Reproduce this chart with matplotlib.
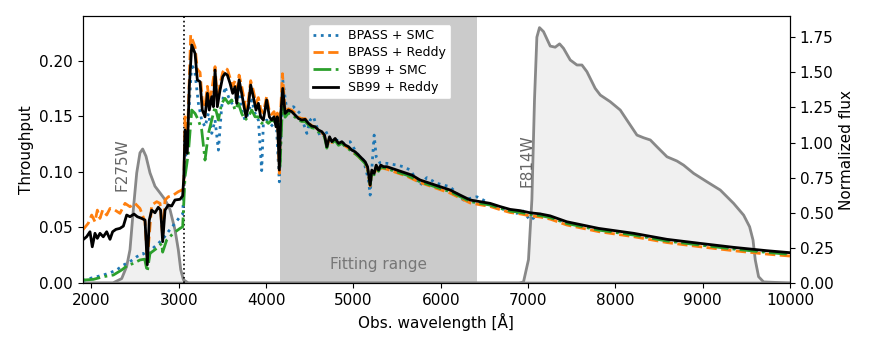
import matplotlib
matplotlib.use('Agg')
import matplotlib.pyplot as plt

# filter throughputs (left axis)
f275_wave = [1900, 2247, 2270, 2347, 2404, 2442, 2480, 2519, 2556, 2587, 2625, 2671, 2728,
             2786, 2843, 2900, 2957, 2995, 3023, 3053, 3110, 10000]
f275_thr = [0.0, 0.0, 0.001, 0.004, 0.015, 0.030, 0.066, 0.099, 0.117, 0.1205, 0.114, 0.099, 0.087,
            0.081, 0.075, 0.066, 0.048, 0.030, 0.012, 0.003, 0.0, 0.0]

f814_wave = [1900, 6900, 6948, 7005, 7044, 7074, 7101, 7131, 7177, 7254, 7311, 7361, 7406, 7483,
             7560, 7617, 7674, 7769, 7827, 7941, 8056, 8132, 8247, 8323, 8400, 8476, 8591,
             8705, 8781, 8896, 9049, 9201, 9354, 9469, 9537, 9576, 9602, 9640, 9697, 10000]
f814_thr = [0.0, 0.0, 0.001, 0.021, 0.075, 0.165, 0.221, 0.2296, 0.226, 0.213, 0.212, 0.215, 0.211,
            0.2005, 0.196, 0.196, 0.190, 0.175, 0.169, 0.163, 0.1555, 0.1465, 0.133, 0.1306,
            0.1286, 0.1225, 0.1135, 0.1097, 0.106, 0.0986, 0.091, 0.0836, 0.0716, 0.061,
            0.0506, 0.0387, 0.0207, 0.0057, 0.001, 0.0]

# SB99 + Reddy (normalized flux, right axis)
sb99_reddy_wave = [1900, 1946, 1984, 2010, 2041, 2068, 2098, 2136, 2175, 2213, 2243, 2281, 2327,
                   2366, 2404, 2442, 2488, 2526, 2576, 2614, 2640, 2663, 2690, 2728, 2766, 2793,
                   2816, 2843, 2881, 2919, 2957, 3015, 3045, 3058, 3072, 3098, 3121, 3149, 3187,
                   3213, 3244, 3270, 3301, 3328, 3350, 3378, 3397, 3416, 3442, 3473, 3504, 3530,
                   3557, 3588, 3618, 3645, 3664, 3691, 3721, 3748, 3771, 3797, 3824, 3854, 3885,
                   3912, 3938, 3969, 4007, 4038, 4064, 4091, 4114, 4129, 4152, 4169, 4191, 4218,
                   4256, 4295, 4333, 4371, 4409, 4448, 4486, 4524, 4562, 4600, 4639, 4669, 4696,
                   4727, 4753, 4791, 4830, 4868, 4906, 4944, 4982, 5020, 5059, 5097, 5135, 5162,
                   5192, 5211, 5238, 5261, 5288, 5314, 5345, 5383, 5441, 5498, 5555, 5612, 5670,
                   5764, 5879, 5993, 6108, 6222, 6337, 6452, 6566, 6681, 6795, 6910, 7024, 7139,
                   7253, 7444, 7807, 8208, 8591, 8973, 9354, 9736, 10000]
sb99_reddy_flux = [0.306, 0.33, 0.365, 0.258, 0.354, 0.318, 0.354, 0.329, 0.365, 0.311, 0.365, 0.382,
                   0.389, 0.405, 0.484, 0.472, 0.491, 0.472, 0.46, 0.448, 0.13, 0.448, 0.519, 0.50,
                   0.539, 0.519, 0.294, 0.519, 0.555, 0.548, 0.591, 0.596, 0.62, 0.75, 1.089, 0.923,
                   1.397, 1.694, 1.634, 1.445, 1.433, 1.231, 1.183, 1.35, 1.231, 1.326, 1.255,
                   1.516, 1.255, 1.373, 1.468, 1.492, 1.48, 1.421, 1.35, 1.397, 1.279, 1.445,
                   1.35, 1.255, 1.183, 1.255, 1.409, 1.326, 1.231, 1.279, 1.183, 1.16, 1.303,
                   1.183, 1.16, 1.183, 1.112, 1.183, 0.804, 1.207, 1.385, 1.207, 1.231, 1.219,
                   1.195, 1.171, 1.16, 1.165, 1.136, 1.117, 1.112, 1.089, 1.077, 1.053, 0.97,
                   1.041, 1.006, 1.029, 0.994, 1.006, 0.982, 0.970, 0.946, 0.934, 0.911, 0.887,
                   0.863, 0.828, 0.697, 0.804, 0.780, 0.839, 0.804, 0.839, 0.828, 0.828, 0.816,
                   0.804, 0.792, 0.780, 0.768, 0.733, 0.709, 0.685, 0.662, 0.626, 0.591, 0.579,
                   0.567, 0.544, 0.524, 0.515, 0.500, 0.492, 0.478, 0.436, 0.389, 0.354, 0.311,
                   0.282, 0.254, 0.23, 0.216]

# BPASS + Reddy
bpass_reddy_wave = [1900, 1964, 2003, 2041, 2068, 2098, 2129, 2175, 2213, 2270, 2327, 2385, 2442,
                    2499, 2556, 2614, 2640, 2690, 2748, 2786, 2816, 2843, 2881, 2938, 2995, 3034,
                    3058, 3072, 3098, 3121, 3137, 3187, 3213, 3244, 3270, 3301, 3328, 3350, 3378,
                    3416, 3442, 3473, 3504, 3530, 3557, 3588, 3618, 3645, 3664, 3691, 3721, 3748,
                    3771, 3797, 3824, 3854, 3885, 3912, 3938, 3969, 4007, 4038, 4064, 4091, 4114,
                    4129, 4152, 4169, 4188, 4218, 4256, 4295, 4333, 4371, 4409, 4448, 4486, 4524,
                    4562, 4600, 4639, 4669, 4696, 4727, 4753, 4791, 4830, 4868, 4906, 4944, 4982,
                    5020, 5059, 5097, 5135, 5162, 5192, 5211, 5238, 5261, 5288, 5314, 5383, 5498,
                    5612, 5764, 5879, 5993, 6108, 6222, 6337, 6452, 6566, 6681, 6795, 6910, 7024,
                    7139, 7253, 7444, 7807, 8208, 8591, 8973, 9354, 9736, 10000]
bpass_reddy_flux = [0.377, 0.425, 0.484, 0.436, 0.519, 0.46, 0.519, 0.484, 0.531, 0.519, 0.496,
                    0.567, 0.543, 0.567, 0.531, 0.436, 0.16, 0.555, 0.579, 0.567, 0.33, 0.591,
                    0.614, 0.626, 0.65, 0.661, 0.68, 1.183, 1.0, 1.45, 1.765, 1.68, 1.52, 1.50,
                    1.30, 1.26, 1.40, 1.30, 1.37, 1.54, 1.30, 1.42, 1.50, 1.53, 1.52, 1.46, 1.40,
                    1.44, 1.33, 1.48, 1.40, 1.31, 1.24, 1.30, 1.44, 1.37, 1.28, 1.32, 1.24, 1.21,
                    1.33, 1.22, 1.20, 1.22, 1.16, 1.21, 0.78, 1.25, 1.49, 1.22, 1.24, 1.23, 1.21,
                    1.18, 1.17, 1.17, 1.14, 1.12, 1.11, 1.09, 1.07, 1.05, 0.97, 1.03, 1.00, 1.02,
                    0.99, 1.00, 0.975, 0.96, 0.935, 0.92, 0.90, 0.875, 0.85, 0.815, 0.69, 0.79,
                    0.77, 0.825, 0.79, 0.82, 0.81, 0.785, 0.76, 0.715, 0.69, 0.665, 0.64, 0.605,
                    0.57, 0.557, 0.545, 0.522, 0.502, 0.492, 0.478, 0.47, 0.455, 0.413, 0.366,
                    0.33, 0.288, 0.258, 0.23, 0.206, 0.192]

# SB99 + SMC
sb99_smc_wave = [1900, 2022, 2136, 2251, 2347, 2404, 2480, 2556, 2610, 2640, 2671, 2748, 2805,
                 2816, 2862, 2938, 3015, 3045, 3072, 3110, 3149, 3187, 3225, 3263, 3301, 3340,
                 3378, 3416, 3454, 3492, 3530, 3569, 3607, 3645, 3683, 3721, 3759, 3797, 3836,
                 3874, 3912, 3950, 3988, 4026, 4064, 4102, 4141, 4160, 4180, 4191, 4218, 4256,
                 4295, 4333, 4371, 4409, 4448, 4486, 4524, 4562, 4600, 4639, 4669, 4696, 4727,
                 4753, 4791, 4830, 4868, 4906, 4944, 4982, 5020, 5059, 5097, 5135, 5162, 5192,
                 5211, 5238, 5261, 5288, 5314, 5383, 5498, 5612, 5764, 5879, 5993, 6108, 6222,
                 6337, 6452, 6566, 6681, 6795, 6910, 7024, 7139, 7253, 7444, 7807, 8208, 8591,
                 8973, 9354, 9736, 10000]
sb99_smc_flux = [0.021, 0.026, 0.045, 0.057, 0.093, 0.121, 0.14, 0.164, 0.17, 0.081, 0.211, 0.247,
                 0.282, 0.22, 0.306, 0.354, 0.389, 0.40, 0.757, 0.923, 1.231, 1.207, 1.16, 1.089,
                 0.875, 1.065, 1.16, 1.255, 1.16, 1.279, 1.314, 1.279, 1.303, 1.231, 1.279, 1.207,
                 1.16, 1.183, 1.231, 1.183, 1.183, 1.136, 1.16, 1.136, 1.16, 1.148, 1.136, 0.828,
                 1.15, 1.25, 1.18, 1.21, 1.20, 1.18, 1.16, 1.15, 1.15, 1.125, 1.105, 1.10, 1.075,
                 1.065, 1.04, 0.96, 1.03, 0.995, 1.015, 0.98, 0.995, 0.97, 0.955, 0.935, 0.92,
                 0.90, 0.875, 0.85, 0.815, 0.70, 0.79, 0.77, 0.825, 0.795, 0.825, 0.815, 0.79,
                 0.768, 0.72, 0.697, 0.673, 0.65, 0.615, 0.58, 0.567, 0.555, 0.532, 0.512, 0.503,
                 0.488, 0.48, 0.466, 0.424, 0.377, 0.342, 0.299, 0.27, 0.242, 0.218, 0.204]

# BPASS + SMC
bpass_smc_wave = [1900, 1984, 2060, 2136, 2213, 2289, 2366, 2442, 2518, 2595, 2640, 2690, 2767,
                  2824, 2881, 2957, 3015, 3045, 3072, 3110, 3149, 3187, 3225, 3263, 3301, 3340,
                  3378, 3416, 3454, 3492, 3530, 3569, 3607, 3645, 3683, 3721, 3759, 3797, 3836,
                  3874, 3912, 3950, 3969, 4007, 4045, 4083, 4121, 4152, 4191, 4237, 4314, 4390,
                  4467, 4505, 4543, 4620, 4677, 4734, 4811, 4887, 4963, 5040, 5116, 5173, 5192,
                  5223, 5238, 5261, 5307, 5383, 5498, 5573, 5651, 5764, 5841, 5955, 6108, 6260,
                  6413, 6490, 6566, 6872, 6929, 7024, 7139, 7253, 7444, 7807, 8208, 8591, 8973,
                  9354, 9736, 10000]
bpass_smc_flux = [0.017, 0.033, 0.045, 0.057, 0.073, 0.093, 0.128, 0.152, 0.187, 0.211, 0.164,
                  0.24, 0.282, 0.318, 0.366, 0.425, 0.472, 0.49, 0.828, 1.16, 1.563, 1.492, 1.279,
                  1.16, 1.112, 1.207, 1.065, 1.16, 0.946, 1.255, 1.397, 1.326, 1.279, 1.303, 1.373,
                  1.231, 1.16, 1.207, 1.303, 1.207, 1.16, 0.80, 1.136, 1.16, 1.136, 1.112, 1.089,
                  0.72, 1.445, 1.231, 1.255, 1.207, 1.065, 1.16, 1.183, 1.041, 1.089, 1.017, 1.017,
                  0.994, 1.006, 0.923, 0.875, 0.733, 0.626, 0.923, 1.053, 0.899, 0.852, 0.852,
                  0.839, 0.828, 0.804, 0.697, 0.75, 0.71, 0.685, 0.591, 0.614, 0.59, 0.556, 0.496,
                  0.52, 0.448, 0.49, 0.47, 0.43, 0.383, 0.348, 0.305, 0.275, 0.248, 0.224, 0.21]

lyman_edge = 3064
fit_lo, fit_hi = 4160, 6415

fig, ax = plt.subplots(figsize=(8.72, 3.49), dpi=100)
fig.subplots_adjust(left=0.0948, right=0.906, top=0.954, bottom=0.189)

ax.axvspan(fit_lo, fit_hi, color='#cbcbcb', lw=0, zorder=0)
ax.fill_between(f275_wave, f275_thr, color='#f0f0f0', zorder=1)
ax.plot(f275_wave, f275_thr, color='#888888', lw=2, zorder=2)
ax.fill_between(f814_wave, f814_thr, color='#f0f0f0', zorder=1)
ax.plot(f814_wave, f814_thr, color='#888888', lw=2, zorder=2)
ax.axvline(lyman_edge, color='k', ls=':', lw=1.2, zorder=3)

ax.text(2350, 0.106, 'F275W', rotation=90, color='#666666', fontsize=11, ha='center', va='center')
ax.text(6990, 0.11, 'F814W', rotation=90, color='#666666', fontsize=11, ha='center', va='center')
ax.text(0.5 * (fit_lo + fit_hi), 0.017, 'Fitting range', color='#777777', fontsize=11,
        ha='center', va='center')

ax.set_xlim(1900, 10000)
ax.set_ylim(0, 0.24)
ax.set_xticks(range(2000, 10001, 1000))
ax.set_xlabel('Obs. wavelength [Å]', fontsize=11)
ax.set_ylabel('Throughput', fontsize=11)
ax.tick_params(labelsize=11)

ax2 = ax.twinx()
ax2.plot(bpass_smc_wave, bpass_smc_flux, color='tab:blue', ls=':', lw=2, label='BPASS + SMC')
ax2.plot(bpass_reddy_wave, bpass_reddy_flux, color='tab:orange', ls='--', lw=2, label='BPASS + Reddy')
ax2.plot(sb99_smc_wave, sb99_smc_flux, color='tab:green', ls='-.', lw=2, label='SB99 + SMC')
ax2.plot(sb99_reddy_wave, sb99_reddy_flux, color='k', ls='-', lw=2, label='SB99 + Reddy')
ax2.set_ylim(0, 1.9)
ax2.set_ylabel('Normalized flux', fontsize=11)
ax2.tick_params(labelsize=11)
ax2.legend(loc='upper left', bbox_to_anchor=(0.319, 0.97), borderaxespad=0, fontsize=9,
           labelspacing=0.35, framealpha=1)

fig.savefig('out.png', dpi=100)
